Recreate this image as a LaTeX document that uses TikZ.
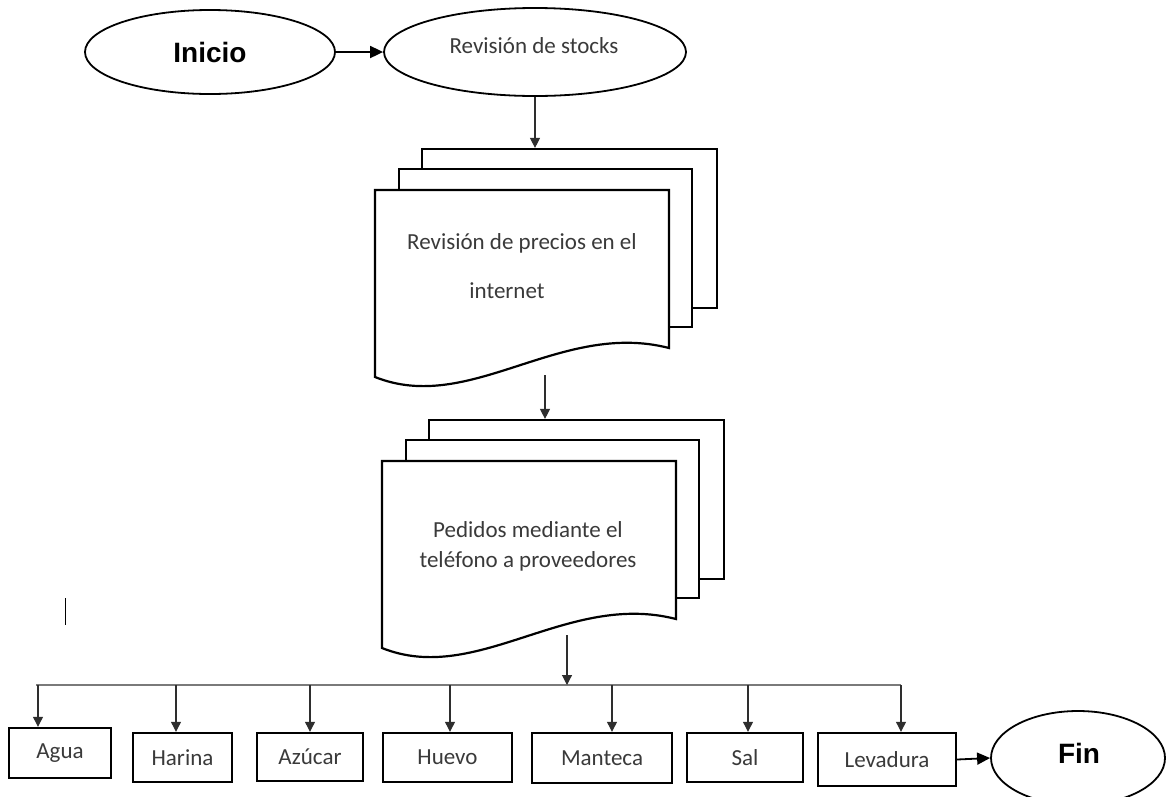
\documentclass[tikz,border=0pt]{standalone}
\usepackage{fontspec}
\usetikzlibrary{shapes.geometric,arrows.meta,calc}
\newfontfamily\calfont{Carlito}
\newfontfamily\arialfont{Liberation Sans}
\definecolor{ink}{HTML}{3A3A3A}
\definecolor{wire}{HTML}{2E2E2E}
\definecolor{busgray}{HTML}{7A7A7A}

\tikzset{
  oval/.style={ellipse, draw=black, line width=1.8pt, inner sep=0pt, fill=white},
  bigtxt/.style={font=\arialfont\bfseries\fontsize{28}{32}\selectfont, text=black},
  smalltxt/.style={font=\calfont\fontsize{23}{28}\selectfont, text=ink},
  page/.style={draw=black, line width=2.2pt, fill=white, inner sep=0pt},
  itembox/.style={draw=black, line width=2.4pt, inner sep=0pt, fill=white,
                  font=\calfont\fontsize{23}{28}\selectfont, text=ink},
  conn/.style={draw=wire, line width=1.1pt, -{Triangle[width=10pt,length=10pt]}},
  thickconn/.style={draw=black, line width=1.8pt, -{Triangle[width=12pt,length=13pt]}},
  busline/.style={draw=busgray, line width=1.5pt},
}

% stack of three pages; #1 = name, #2 = top-left corner of the front page
\newcommand\docstack[2]{%
  \begin{scope}[shift={(#2)}]
    \node[page, minimum width=295, minimum height=159] (#1-back) at (194.5,38.5) {};
    \node[page, minimum width=293, minimum height=158] (#1-mid) at (170.5,58) {};
    \draw[page] (0,0) -- (294,0) -- (294,158)
      .. controls (185,130) and (95,225) .. (0,187) -- cycle;
    \coordinate (#1-nw) at (0,0);
  \end{scope}}

\begin{document}
\begin{tikzpicture}[x=1pt,y=-1pt]
  \useasboundingbox (0,0) rectangle (1166,796);
  \clip (0,0) rectangle (1166,796);

  % start and first step
  \node[oval, minimum width=250, minimum height=84] (inicio) at (210,52) {};
  \node[bigtxt] at (inicio.center) {Inicio};
  \node[oval, minimum width=302, minimum height=88] (stocks) at (535,52) {};
  \node[smalltxt] at (534,46) {Revisión de stocks};
  \draw[thickconn] (inicio.east) -- (stocks.west);

  % document stacks
  \docstack{doc1}{375,190}
  \node[smalltxt, align=center] (precios) at (522,266)
    {Revisión de precios en el\\[21pt]\hspace*{-30pt}internet};
  \draw[conn] (stocks.south) -- (stocks.south |- doc1-back.north);

  \docstack{doc2}{382,461}
  \node[smalltxt, align=center] (pedidos) at (528,546)
    {Pedidos mediante el\\[2pt]teléfono a proveedores};
  \coordinate (doc1-out) at (545,375);
  \draw[conn] (doc1-out) -- (doc1-out |- doc2-back.north);

  % distribution bus
  \coordinate (doc2-out) at (567,635);
  \coordinate (bus-in) at (567,685);
  \coordinate (bus-w) at (36,685);
  \coordinate (bus-e) at (901,685);
  \draw[busline] (bus-w) -- (bus-e);
  \draw[conn] (doc2-out) -- (bus-in);

  % ingredients
  \node[itembox, minimum width=102, minimum height=50] (agua) at (60,753) {\raisebox{-2pt}{Agua}};
  \node[itembox, minimum width=99, minimum height=49] (harina) at (182.5,757.5) {Harina};
  \node[itembox, minimum width=106, minimum height=48] (azucar) at (310,757) {Azúcar};
  \node[itembox, minimum width=129, minimum height=49] (huevo) at (447.5,757.5) {Huevo};
  \node[itembox, minimum width=140, minimum height=50] (manteca) at (602,758) {Manteca};
  \node[itembox, minimum width=116, minimum height=49] (sal) at (745,757.5) {Sal};
  \node[itembox, minimum width=138, minimum height=53] (levadura) at (887,759.5) {Levadura};

  \foreach \n/\x in {agua/38, harina/176, azucar/310, huevo/450, manteca/612, sal/748, levadura/901}{
    \coordinate (tap-\n) at (\x,685);
    \draw[conn] (tap-\n) -- (tap-\n |- \n.north);
  }

  % end
  \node[oval, minimum width=174, minimum height=94] (fin) at (1078,758) {};
  \node[bigtxt] at (1079,753) {Fin};
  \draw[thickconn] (levadura.east) -- (fin.west);

  % small vertical stroke at the left margin
  \draw[black, line width=1pt] (65,598) -- (65,625);
\end{tikzpicture}
\end{document}
